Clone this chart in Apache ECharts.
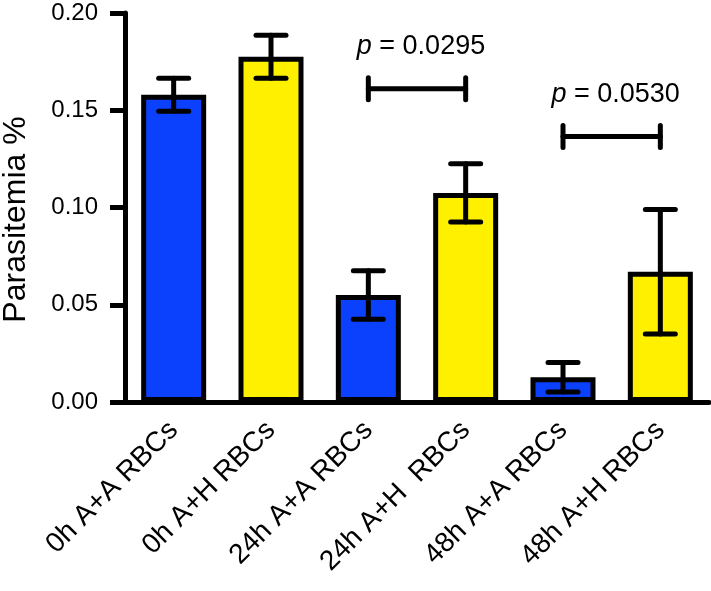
<!DOCTYPE html>
<html>
<head>
<meta charset="utf-8">
<script src="https://cdn.jsdelivr.net/npm/echarts@6/dist/echarts.min.js"></script>
<style>
html,body{margin:0;padding:0;background:#fff;}
#main{width:711px;height:591px;}
</style>
</head>
<body>
<div id="main"></div>
<script>
var categories = ['0h A+A RBCs', '0h A+H RBCs', '24h A+A RBCs', '24h A+H  RBCs', '48h A+A RBCs', '48h A+H RBCs'];
var means = [0.158, 0.1775, 0.055, 0.1075, 0.0127, 0.067];
var errs = [0.0085, 0.011, 0.0125, 0.015, 0.0076, 0.032];
var groupColors = ['#0b40fc', '#fff000', '#0b40fc', '#fff000', '#0b40fc', '#fff000'];
var yTicks = [0, 0.05, 0.10, 0.15, 0.20];
var brackets = [[2, 3, 0.161], [4, 5, 0.1365]];
var pValues = ['0.0295', '0.0530'];

var FONT = 'Liberation Sans, Arial, Helvetica, sans-serif';

var barData = means.map(function (m, i) {
  return { value: m, itemStyle: { color: groupColors[i] } };
});
var errData = means.map(function (m, i) { return [i, m - errs[i], m + errs[i]]; });
var bracketData = brackets.map(function (b, i) { return [b[0], b[1], b[2], i]; });

var chart = echarts.init(document.getElementById('main'), null, { renderer: 'canvas' });
chart.setOption({
  backgroundColor: '#ffffff',
  animation: false,
  grid: { left: 125, right: 2, top: 13, bottom: 189, containLabel: false, outerBoundsMode: 'none' },
  xAxis: {
    type: 'category',
    data: categories,
    axisLine: { lineStyle: { color: '#000', width: 5 } },
    axisTick: { alignWithLabel: true, length: 15, lineStyle: { color: '#000', width: 5 } },
    axisLabel: { rotate: 45, interval: 0, margin: 24, color: '#000', fontSize: 28, fontFamily: FONT }
  },
  yAxis: {
    type: 'value',
    min: yTicks[0],
    max: yTicks[yTicks.length - 1],
    interval: 0.05,
    name: 'Parasitemia %',
    nameLocation: 'middle',
    nameGap: 93,
    nameTextStyle: { color: '#000', fontSize: 32, fontFamily: FONT, padding: [0, 24, 0, 0] },
    splitLine: { show: false },
    axisLine: { show: true, lineStyle: { color: '#000', width: 5 } },
    axisTick: { show: true, length: 15, lineStyle: { color: '#000', width: 5 } },
    axisLabel: {
      margin: 27, color: '#000', fontSize: 24, fontFamily: FONT,
      formatter: function (v) { return v.toFixed(2); }
    }
  },
  series: [
    {
      type: 'bar',
      data: barData,
      barWidth: 65,
      itemStyle: { borderColor: '#000', borderWidth: 5 },
      z: 2
    },
    {
      type: 'custom',
      data: errData,
      z: 5,
      clip: false,
      renderItem: function (params, api) {
        var x = api.value(0);
        var lo = api.coord([x, api.value(1)]);
        var hi = api.coord([x, api.value(2)]);
        var hw = 15;
        var st = { stroke: '#000', lineWidth: 5, lineCap: 'round' };
        return {
          type: 'group',
          children: [
            { type: 'line', shape: { x1: lo[0], y1: lo[1], x2: hi[0], y2: hi[1] }, style: st },
            { type: 'line', shape: { x1: hi[0] - hw, y1: hi[1], x2: hi[0] + hw, y2: hi[1] }, style: st },
            { type: 'line', shape: { x1: lo[0] - hw, y1: lo[1], x2: lo[0] + hw, y2: lo[1] }, style: st }
          ]
        };
      }
    },
    {
      type: 'custom',
      data: bracketData,
      z: 6,
      clip: false,
      renderItem: function (params, api) {
        var a = api.coord([api.value(0), api.value(2)]);
        var b = api.coord([api.value(1), api.value(2)]);
        var idx = api.value(3);
        var st = { stroke: '#000', lineWidth: 5, lineCap: 'round' };
        var h = 11;
        return {
          type: 'group',
          children: [
            { type: 'line', shape: { x1: a[0], y1: a[1], x2: b[0], y2: b[1] }, style: st },
            { type: 'line', shape: { x1: a[0], y1: a[1] - h, x2: a[0], y2: a[1] + h }, style: st },
            { type: 'line', shape: { x1: b[0], y1: b[1] - h, x2: b[0], y2: b[1] + h }, style: st },
            {
              type: 'text',
              x: (a[0] + b[0]) / 2 + 4,
              y: a[1] - 42,
              style: {
                text: '{i|p} = ' + pValues[idx],
                align: 'center',
                verticalAlign: 'middle',
                fill: '#000',
                fontSize: 27,
                fontFamily: FONT,
                rich: { i: { fontStyle: 'italic', fontSize: 27, fontFamily: FONT, fill: '#000' } }
              }
            }
          ]
        };
      }
    }
  ]
});
</script>
</body>
</html>
